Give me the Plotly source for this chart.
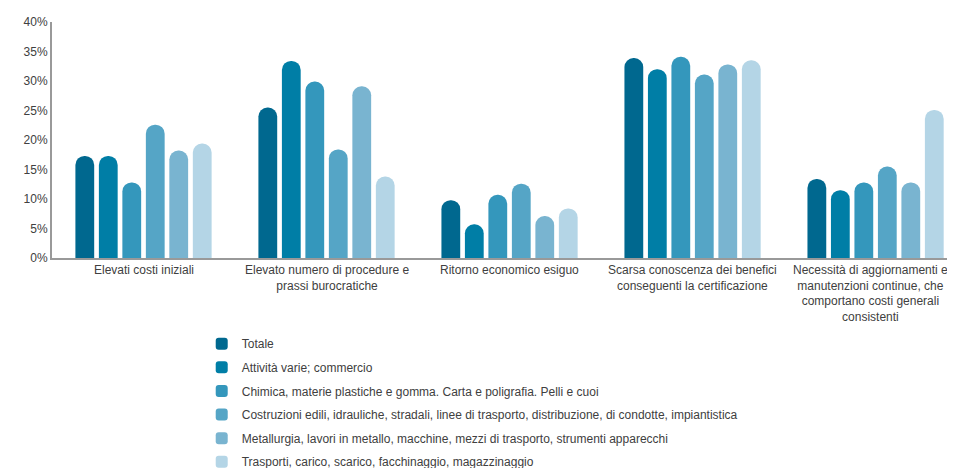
import plotly.graph_objects as go

categories = [
    "Elevati costi iniziali",
    "Elevato numero di procedure e<br>prassi burocratiche",
    "Ritorno economico esiguo",
    "Scarsa conoscenza dei benefici<br>conseguenti la certificazione",
    "Necessità di aggiornamenti e<br>manutenzioni continue, che<br>comportano costi generali<br>consistenti",
]

series_names = [
    "Totale",
    "Attività varie; commercio",
    "Chimica, materie plastiche e gomma. Carta e poligrafia. Pelli e cuoi",
    "Costruzioni edili, idrauliche, stradali, linee di trasporto, distribuzione, di condotte, impiantistica",
    "Metallurgia, lavori in metallo, macchine, mezzi di trasporto, strumenti apparecchi",
    "Trasporti, carico, scarico, facchinaggio, magazzinaggio",
]

totale = [17.3, 25.5, 9.8, 33.9, 13.4]
attivita = [17.3, 33.4, 5.7, 32.0, 11.5]
chimica = [12.8, 29.9, 10.7, 34.1, 12.8]
costruzioni = [22.6, 18.4, 12.6, 31.1, 15.5]
metallurgia = [18.2, 29.1, 7.1, 32.8, 12.8]
trasporti = [19.4, 13.8, 8.4, 33.5, 25.1]

series_values = [totale, attivita, chimica, costruzioni, metallurgia, trasporti]
colors = ["#00688f", "#007ea6", "#3497bc", "#55a5c6", "#79b4d0", "#b4d5e6"]

yticks = [0, 5, 10, 15, 20, 25, 30, 35, 40]
ytick_labels = [f"{v}%" for v in yticks]

fig = go.Figure()
for i, (name, vals, col) in enumerate(zip(series_names, series_values, colors)):
    fig.add_trace(go.Bar(
        x=categories, y=vals, name=name,
        marker=dict(color=col, line=dict(width=0)),
        legendgroup=f"g{i}",
    ))

# category labels as annotations anchored to the category axis
for j, cat in enumerate(categories):
    fig.add_annotation(
        x=cat, xref="x", y=0, yref="paper", yanchor="top", xanchor="center",
        yshift=-3, xshift=(-5 if j == len(categories) - 1 else 0),
        text=cat, showarrow=False, align="center",
        font=dict(size=12, color="#404040"),
    )

fig.update_layout(
    width=947, height=460,
    margin=dict(l=44, r=0, t=14, b=210, autoexpand=False),
    paper_bgcolor="white", plot_bgcolor="white",
    barmode="group", bargap=0.23, bargroupgap=0.2,
    barcornerradius="50%",
    font=dict(family="Liberation Sans, Arial, sans-serif", size=12, color="#404040"),
    showlegend=True,
    legend=dict(
        orientation="v", x=0.1658, xanchor="left", y=-0.302, yanchor="top",
        font=dict(size=12, color="#404040"),
        tracegroupgap=4.6, itemwidth=30,
        bgcolor="rgba(0,0,0,0)",
    ),
    xaxis=dict(
        type="category", range=[-0.5, 4.434], automargin=False,
        showline=True, linecolor="#999999", linewidth=2,
        showgrid=False, ticks="", showticklabels=False,
    ),
    yaxis=dict(
        range=[0, 40], tickvals=yticks, ticktext=ytick_labels, automargin=False,
        showline=True, linecolor="#999999", linewidth=2,
        showgrid=False, zeroline=False, ticks="",
        tickfont=dict(size=12, color="#404040"),
    ),
)

fig.write_html("out.html")
